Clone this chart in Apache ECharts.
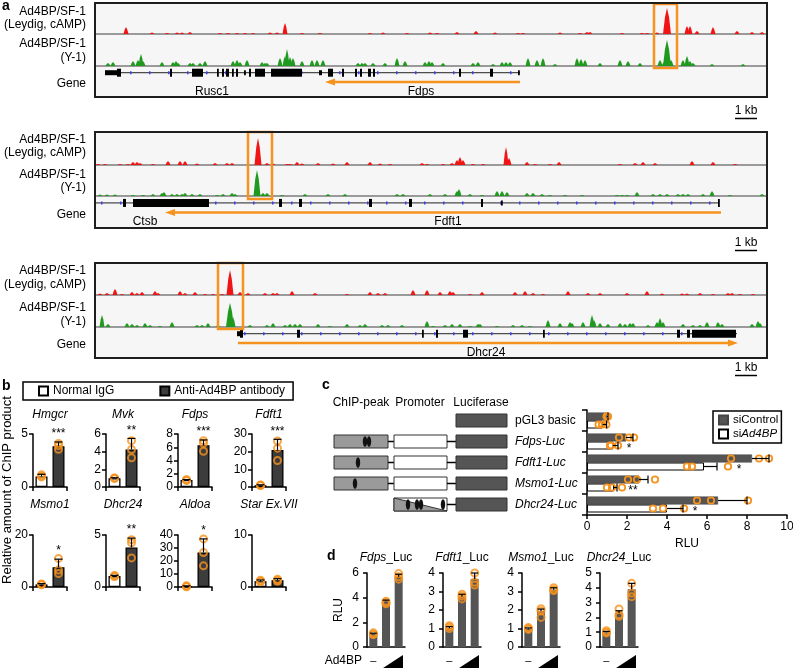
<!DOCTYPE html>
<html>
<head>
<meta charset="utf-8">
<title>Ad4BP/SF-1 targets</title>
<script src="https://cdn.jsdelivr.net/npm/echarts@6/dist/echarts.min.js"></script>
<style>
html, body { margin: 0; padding: 0; background: #fff; }
#fig { width: 793px; height: 668px; }
</style>
</head>
<body>
<div id="fig"></div>
<script>
// ---------------- data ----------------
// panel a: ChIP-seq signal, [position in window units (0-672), height, peak width]
var WINDOW = 672;
var trackLabels = ['Ad4BP/SF-1', '(Leydig, cAMP)', 'Ad4BP/SF-1', '(Y-1)', 'Gene'];

var fdpsLeydig = [[31,7,5],[57,1.5],[72,1],[82,1.5],[87,1.5],[95,2],[125,1],[133,1],[142,1],[150,1],[158,1],[175,1.5],[182,1.5],[190,11,5],[207,1],[225,1],[275,1],[288,1.5],[312,1],[335,1.5],[342,1],[362,2],[381,3],[400,1.5],[423,1],[428,1],[465,1.5],[485,1],[492,2],[495,2],[527,1],[547,1],[552,1],[562,1.5],[572,26,8],[592,8],[595,8],[602,3],[618,7],[642,3],[657,2],[667,2]];
var fdpsY1 = [[13,3],[18,4],[38,5],[43,6],[46,12],[48,5],[67,4],[78,4],[81,5],[83,3],[95,3],[98,3],[105,3],[110,5],[138,5],[142,6],[145,4],[152,6],[167,4],[170,3],[172,3],[185,8],[190,10],[192,17],[195,9],[198,8],[207,5],[217,6],[222,6],[228,6],[263,3],[267,3],[270,3],[278,3],[290,3],[302,8],[310,5],[330,4],[334,5],[337,4],[348,3],[378,3],[383,4],[398,2],[407,4],[411,4],[415,4],[433,8],[442,6],[448,8],[460,2],[482,8],[486,7],[490,6],[505,3],[525,6],[533,5],[545,3],[565,6],[569,4],[572,26,8],[576,6],[588,6],[592,10],[595,5],[598,3],[617,2],[648,2]];
var fdpsIntrons = [[10, 425]];
var fdpsExons = [[10,22,0],[22,26,1],[75,77,1],[97,108,1],[122,123,1],[127,129,1],[131,134,1],[137,138,1],[141,143,1],[149,150,0],[154,156,1],[160,170,1],[176,207,1],[224,227,0],[233,238,1],[247,249,1],[260,262,1],[265,267,1],[273,276,1],[278,280,1],[364,366,1],[395,398,1],[423,424,0]];
var fdpsArrows = [[230, 425, -1]];
var fdpsNames = [[117, 'Rusc1'], [326, 'Fdps']];
var fdpsPeakBox = [[559, 582]];

var fdft1Leydig = [[3,1],[10,1],[25,1],[33,1],[38,3],[42,3],[45,2],[58,1],[73,4],[85,4],[90,4],[102,1.5],[120,2],[132,2],[137,2],[163,27,7],[172,2],[178,1.5],[192,1],[195,1],[202,3],[207,1.5],[223,2],[238,1.5],[252,3],[275,3],[285,1.5],[295,1],[327,2],[332,1],[348,1],[357,2],[362,5],[365,8],[368,5],[378,1],[388,1],[411,18,5],[414,7],[432,3],[440,1],[455,1],[464,3],[525,1],[540,2],[548,3],[560,2],[597,4],[618,3],[640,1]];
var fdft1Y1 = [[5,1.5],[12,1.5],[20,1.5],[38,1],[48,1],[58,2],[67,3],[69,4],[77,2],[82,2],[87,2],[90,3],[97,2],[105,2],[122,1],[128,2],[137,3],[140,2],[162,26,7],[168,3],[172,3],[187,1],[210,2],[233,2],[250,2],[302,2],[308,2],[335,2],[350,2],[362,5],[364,7],[375,2],[387,1],[402,5],[407,5],[412,4],[432,3],[438,3],[447,2],[455,1],[470,1],[487,1],[522,1],[527,1],[532,1],[542,4],[558,2],[565,2],[572,2],[583,2],[588,2],[593,2],[608,2],[617,5],[635,1],[667,2]];
var fdft1Introns = [[0, 624]];
var fdft1Exons = [[28,31,1],[38,114,1],[184,187,1],[204,207,1],[274,277,1],[314,317,1],[386,388,1],[406,407,0],[623,624,1]];
var fdft1Arrows = [[70, 626, -1]];
var fdft1Names = [[50, 'Ctsb'], [353, 'Fdft1']];
var fdft1PeakBox = [[153, 177]];

var dhcr24Leydig = [[5,1.5],[12,2],[20,6],[27,1],[37,3],[42,2],[47,3],[60,4],[63,2],[85,4],[90,2],[100,3],[110,1],[118,1],[127,1],[135,25,7],[145,3],[153,2],[170,2],[178,2],[182,2],[197,4],[220,2],[252,1],[275,3],[283,2],[290,2],[318,5],[332,5],[345,3],[355,4],[358,3],[375,1],[387,3],[420,3],[430,4],[438,2],[448,1],[473,4],[493,2],[505,2],[532,2],[552,4],[567,1.5],[587,1.5],[592,1.5],[605,2],[618,1],[633,2],[637,2],[645,1],[658,1]];
var dhcr24Y1 = [[7,12],[13,3],[32,4],[37,3],[42,2],[50,4],[55,2],[65,1],[77,5],[102,2],[107,2],[113,4],[123,2],[135,24,8],[138,10],[155,2],[172,2],[178,4],[190,2],[195,3],[200,3],[205,3],[223,3],[235,1],[252,3],[265,2],[270,3],[287,2],[293,2],[307,2],[332,6],[338,1],[350,2],[357,3],[365,3],[375,1],[383,3],[385,3],[402,1],[418,2],[427,2],[435,1],[453,7],[465,4],[475,5],[477,4],[488,5],[497,12],[499,7],[505,4],[513,3],[525,4],[530,3],[535,4],[538,4],[553,2],[562,5],[565,9],[568,5],[588,3],[598,2],[605,2],[612,5],[623,5],[627,3],[657,3],[663,6],[665,4]];
var dhcr24Introns = [[143, 642]];
var dhcr24Exons = [[142,145,0],[145,148,1],[202,205,1],[327,328,1],[341,343,1],[368,373,1],[448,449,1],[582,585,1],[592,595,1],[597,641,1]];
var dhcr24Arrows = [[143, 643, 1]];
var dhcr24Names = [[391, 'Dhcr24']];
var dhcr24PeakBox = [[123, 148]];

// panel b: ChIP-qPCR
var chipGenes = ['Hmgcr', 'Mvk', 'Fdps', 'Fdft1', 'Msmo1', 'Dhcr24', 'Aldoa', 'Star Ex.VII'];
var chipYMax = [5, 6, 8, 30, 20, 5, 40, 10];
var chipYStep = [5, 2, 2, 10, 20, 5, 10, 10];
var chipIgG = [1.0, 1.0, 1.05, 1.0, 1.0, 1.05, 0.6, 1.1];
var chipIgGTop = [1.2, 1.05, 1.12, 1.25, 1.3, 1.12, 0.9, 1.35];
var chipIgGPts = [[1.15,1.0,0.95],[1.0,0.97,1.03],[1.0,1.05,1.1],[1.0,1.2,0.8],[1.0,0.85,1.15],[1.05,1.0,1.1],[0.1,0.5,0.9],[1.3,1.1,1.0]];
var chipAnti = [3.85, 4.25, 6.3, 21, 7.6, 3.8, 26.6, 1.3];
var chipAntiTop = [4.25, 5.5, 7.1, 27, 10.7, 4.7, 37, 1.6];
var chipAntiPts = [[4.1,3.55,3.9],[5.25,4.25,3.3],[7.0,6.6,5.4],[26,22,15],[11,6.5,5.2],[4.55,4.25,2.8],[37,26.5,16.3],[1.1,1.3,1.5]];
var chipStars = ['***', '**', '***', '***', '*', '**', '*', ''];

// panel c: reporter constructs, RLU
var lucConstructs = ['pGL3 basic', 'Fdps-Luc', 'Fdft1-Luc', 'Msmo1-Luc', 'Dhcr24-Luc'];
var siControlMean = [1.0, 1.95, 8.25, 2.6, 6.55];
var siControlTop = [1.05, 2.3, 9.1, 3.05, 8.0];
var siControlPts = [[0.98,1.0,1.05],[1.6,2.1,2.35],[7.2,8.6,9.1],[2.05,2.5,3.4],[5.5,6.2,8.05]];
var siAd4bpMean = [0.78, 1.3, 5.85, 1.35, 4.0];
var siAd4bpTop = [0.98, 1.55, 6.5, 1.5, 4.8];
var siAd4bpPts = [[0.58,0.75,0.97],[1.15,1.2,1.55],[5.0,5.25,7.05],[1.0,1.25,1.75],[3.3,3.8,4.85]];
var lucStars = ['', '*', '*', '**', '*'];
// construct maps (schematic units)
var mapChip = [null, [0, 54], [0, 54], [0, 54], null];
var mapPromoter = [null, [60, 113], [60, 113], [60, 113], [60, 113]];
var mapLuc = [[122, 173], [122, 173], [122, 173], [122, 173], [122, 173]];
var mapSites = [[], [31, 35], [24], [21], [74, 83, 87, 109]];
var mapPeakInPromoter = [false, false, false, false, true];

// panel d: dose response, RLU
var doseGenes = ['Fdps', 'Fdft1', 'Msmo1', 'Dhcr24'];
var doseYMax = [6, 4, 4, 5];
var doseYStep = [2, 1, 1, 1];
var doseMean = [[1.1, 3.75, 5.7], [1.03, 2.72, 3.68], [0.98, 1.95, 3.1], [0.99, 2.3, 3.9]];
var doseTop = [[1.12, 3.8, 5.9], [1.1, 2.85, 4.0], [1.03, 2.05, 3.2], [1.05, 2.45, 4.3]];
var dosePts = [
  [[1.0, 1.05, 1.15], [3.5, 3.6, 3.7], [5.5, 5.7, 5.95]],
  [[1.0, 1.1, 1.15], [2.6, 2.75, 2.85], [3.35, 3.5, 4.0]],
  [[0.95, 1.0, 1.05], [1.6, 1.95, 2.07], [3.05, 3.1, 3.2]],
  [[0.95, 1.0, 1.1], [2.07, 2.18, 2.57], [3.4, 3.65, 4.3]]
];

// ---------------- layout / helpers ----------------
var FONT = '"Liberation Sans", Arial, Helvetica, sans-serif';
var ORANGE = '#F6921E';
var grids = [], xAxes = [], yAxes = [], series = [], graphic = [];

function addGrid(rect, xAxis, yAxis) {
  var i = grids.length;
  grids.push({ left: rect[0], top: rect[1], width: rect[2], height: rect[3], outerBoundsMode: 'none' });
  xAxis.gridIndex = i;
  yAxis.gridIndex = i;
  xAxes.push(xAxis);
  yAxes.push(yAxis);
  return i;
}
function hiddenAxis(min, max, inverse) {
  return { type: 'value', min: min, max: max, show: false, inverse: !!inverse };
}
function txt(s, x, y, o) {
  o = o || {};
  return {
    type: 'text', x: x, y: y, z: 60, silent: true, rotation: o.rot || 0,
    style: {
      text: s, fill: '#000', fontFamily: FONT, fontSize: o.size || 11.5,
      fontStyle: o.italic ? 'italic' : 'normal', fontWeight: o.bold ? 'bold' : 'normal',
      align: o.align || 'center', verticalAlign: o.valign || 'middle', rich: o.rich
    }
  };
}
var blackLine = { show: true, onZero: false, lineStyle: { color: '#000', width: 1.5 } };
var blackTick = { show: true, length: 4, lineStyle: { color: '#000', width: 1.5 } };

// ---------------- panel a ----------------
var loci = [
  { leydig: fdpsLeydig, y1: fdpsY1, introns: fdpsIntrons, exons: fdpsExons, arrows: fdpsArrows, names: fdpsNames, box: fdpsPeakBox },
  { leydig: fdft1Leydig, y1: fdft1Y1, introns: fdft1Introns, exons: fdft1Exons, arrows: fdft1Arrows, names: fdft1Names, box: fdft1PeakBox },
  { leydig: dhcr24Leydig, y1: dhcr24Y1, introns: dhcr24Introns, exons: dhcr24Exons, arrows: dhcr24Arrows, names: dhcr24Names, box: dhcr24PeakBox }
];
var boxes = [
  { top: 3, bottom: 97, red: 34, green: 66, hl: [4, 68], text: [12, 24.5, 44, 58, 84], kb: 111 },
  { top: 132, bottom: 228, red: 165, green: 196, hl: [132, 199], text: [139.5, 152.5, 175, 188, 215], kb: 243 },
  { top: 263, bottom: 358, red: 295, green: 327, hl: [263, 329], text: [271, 284.5, 308, 322, 345], kb: 368 }
];
var FRAME_L = 95, FRAME_W = 672;
var LINE_ROW = 6.5, ARROW_ROW = 15.5, NAME_ROW = 24.5;

function trackX() {
  return {
    type: 'value', min: 0, max: WINDOW,
    axisLine: { show: true, onZero: false, lineStyle: { color: '#9a9a9a', width: 2 } },
    axisTick: { show: false }, axisLabel: { show: false }, splitLine: { show: false }
  };
}
function peakSeries(gi, peaks, color) {
  return {
    type: 'custom', xAxisIndex: gi, yAxisIndex: gi, silent: true, z: 3,
    data: peaks.map(function (p) { return [p[0], p[1]]; }),
    renderItem: function (params, api) {
      var p = peaks[params.dataIndex];
      var half = (p[2] || 5) / 2;
      var pts = [
        api.coord([p[0] - half, 0]),
        api.coord([p[0] - half * 0.5, p[1] * 0.65]),
        api.coord([p[0], p[1]]),
        api.coord([p[0] + half * 0.5, p[1] * 0.65]),
        api.coord([p[0] + half, 0])
      ];
      return { type: 'polygon', shape: { points: pts }, style: { fill: color } };
    }
  };
}
function intronSeries(gi, spans) {
  return {
    type: 'custom', xAxisIndex: gi, yAxisIndex: gi, silent: true, z: 3,
    data: spans.map(function (s) { return [s[0], LINE_ROW]; }),
    renderItem: function (params, api) {
      var s = spans[params.dataIndex];
      var a = api.coord([s[0], LINE_ROW]), b = api.coord([s[1], LINE_ROW]);
      return {
        type: 'group', children: [
          { type: 'line', shape: { x1: a[0], y1: a[1], x2: b[0], y2: b[1] }, style: { stroke: '#222', lineWidth: 1 } },
          { type: 'line', shape: { x1: a[0] + 6, y1: a[1], x2: b[0], y2: b[1] }, style: { stroke: '#3b3bf0', lineWidth: 3, lineDash: [1.5, 17.5] } }
        ]
      };
    }
  };
}
function exonSeries(gi, exons) {
  return {
    type: 'custom', xAxisIndex: gi, yAxisIndex: gi, silent: true, z: 4,
    data: exons.map(function (e) { return [e[0], LINE_ROW]; }),
    renderItem: function (params, api) {
      var e = exons[params.dataIndex];
      var a = api.coord([e[0], LINE_ROW]), b = api.coord([e[1], LINE_ROW]);
      var h = e[2] ? 8 : 5;
      return { type: 'rect', shape: { x: a[0], y: a[1] - h / 2, width: Math.max(1.8, b[0] - a[0]), height: h }, style: { fill: '#000' } };
    }
  };
}
function arrowSeries(gi, arrows) {
  return {
    type: 'custom', xAxisIndex: gi, yAxisIndex: gi, silent: true, z: 4,
    data: arrows.map(function (a) { return [a[0], ARROW_ROW]; }),
    renderItem: function (params, api) {
      var a = arrows[params.dataIndex];
      var p0 = api.coord([a[0], ARROW_ROW]), p1 = api.coord([a[1], ARROW_ROW]);
      var tip = a[2] < 0 ? p0 : p1, tail = a[2] < 0 ? p1 : p0, d = a[2] < 0 ? 1 : -1;
      return {
        type: 'group', children: [
          { type: 'line', shape: { x1: tip[0] + d * 6, y1: tip[1], x2: tail[0], y2: tail[1] }, style: { stroke: ORANGE, lineWidth: 2.5 } },
          { type: 'polygon', shape: { points: [[tip[0], tip[1]], [tip[0] + d * 10, tip[1] - 3.5], [tip[0] + d * 10, tip[1] + 3.5]] }, style: { fill: ORANGE } }
        ]
      };
    }
  };
}
function nameSeries(gi, names) {
  return {
    type: 'custom', xAxisIndex: gi, yAxisIndex: gi, silent: true, z: 4,
    data: names.map(function (n) { return [n[0], NAME_ROW]; }),
    renderItem: function (params, api) {
      var n = names[params.dataIndex];
      var p = api.coord([n[0], NAME_ROW]);
      return { type: 'text', x: p[0], y: p[1], style: { text: n[1], fill: '#000', fontFamily: FONT, fontSize: 12, align: 'center', verticalAlign: 'middle' } };
    }
  };
}

boxes.forEach(function (b, k) {
  var L = loci[k];
  graphic.push({ type: 'rect', z: -1, silent: true, shape: { x: FRAME_L, y: b.top, width: FRAME_W, height: b.bottom - b.top }, style: { fill: '#f6f6f6' } });
  graphic.push({ type: 'rect', z: 50, silent: true, shape: { x: FRAME_L, y: b.top, width: FRAME_W, height: b.bottom - b.top }, style: { fill: 'none', stroke: '#1e1e1e', lineWidth: 2 } });

  var hRed = b.red - b.top - 2;
  var gRed = addGrid([FRAME_L, b.top + 2, FRAME_W, hRed], trackX(), hiddenAxis(0, hRed));
  series.push(peakSeries(gRed, L.leydig, '#f01414'));

  var hGreen = b.green - b.red - 2;
  var gGreen = addGrid([FRAME_L, b.red + 2, FRAME_W, hGreen], trackX(), hiddenAxis(0, hGreen));
  series.push(peakSeries(gGreen, L.y1, '#1f9a1f'));

  var gGene = addGrid([FRAME_L, b.green, FRAME_W, b.bottom - b.green], hiddenAxis(0, WINDOW), hiddenAxis(0, 30, true));
  series.push(intronSeries(gGene, L.introns));
  series.push(exonSeries(gGene, L.exons));
  series.push(arrowSeries(gGene, L.arrows));
  series.push(nameSeries(gGene, L.names));

  var gHl = addGrid([FRAME_L, b.hl[0], FRAME_W, b.hl[1] - b.hl[0]], hiddenAxis(0, WINDOW), hiddenAxis(0, 1));
  series.push({
    type: 'custom', xAxisIndex: gHl, yAxisIndex: gHl, silent: true, z: 6,
    data: L.box.map(function (r) { return [r[0], 1]; }),
    renderItem: function (params, api) {
      var r = L.box[params.dataIndex];
      var a = api.coord([r[0], 1]), c = api.coord([r[1], 0]);
      return { type: 'rect', shape: { x: a[0], y: a[1], width: c[0] - a[0], height: c[1] - a[1] }, style: { fill: 'none', stroke: ORANGE, lineWidth: 2.5 } };
    }
  });

  b.text.forEach(function (y, j) { graphic.push(txt(trackLabels[j], 86, y, { align: 'right', size: 12 })); });
  graphic.push(txt('1 kb', 746, b.kb, { size: 12 }));
  graphic.push({ type: 'line', silent: true, z: 60, shape: { x1: 735, y1: b.kb + 7.5, x2: 757, y2: b.kb + 7.5 }, style: { stroke: '#000', lineWidth: 1.5 } });
});
graphic.push(txt('a', 2, 6, { bold: true, size: 14, align: 'left' }));

// ---------------- panel b ----------------
var chipLeft = [33, 106, 178, 252], chipTop = [434, 535], chipH = [53, 52], chipTitleY = [415, 505], CHIP_W = 34;
chipGenes.forEach(function (g, i) {
  var row = Math.floor(i / 4), left = chipLeft[i % 4];
  var gi = addGrid([left, chipTop[row], CHIP_W, chipH[row]],
    { type: 'category', data: ['IgG', 'Ad4BP'], axisLine: blackLine, axisTick: blackTick, axisLabel: { show: false }, splitLine: { show: false } },
    { type: 'value', min: 0, max: chipYMax[i], interval: chipYStep[i], axisLine: blackLine, axisTick: blackTick,
      axisLabel: { fontSize: 12, color: '#000', margin: 5, fontFamily: FONT }, splitLine: { show: false } });
  series.push({ type: 'bar', name: 'Normal IgG', xAxisIndex: gi, yAxisIndex: gi, data: [chipIgG[i], '-'], barWidth: 12, barGap: '-100%', silent: true,
    itemStyle: { color: '#fff', borderColor: '#000', borderWidth: 1.3 } });
  series.push({ type: 'bar', name: 'Anti-Ad4BP antibody', xAxisIndex: gi, yAxisIndex: gi, data: ['-', chipAnti[i]], barWidth: 12, barGap: '-100%', silent: true,
    itemStyle: { color: '#3c3c3c', borderColor: '#000', borderWidth: 1.3 } });
  var pts = chipIgGPts[i].map(function (v) { return [0, v]; }).concat(chipAntiPts[i].map(function (v) { return [1, v]; }));
  series.push({ type: 'scatter', xAxisIndex: gi, yAxisIndex: gi, data: pts, symbol: 'circle', symbolSize: 7, silent: true, z: 4,
    itemStyle: { color: 'rgba(255,255,255,0)', borderColor: ORANGE, borderWidth: 2 } });
  var errs = [[0, chipIgG[i], chipIgGTop[i]], [1, chipAnti[i], chipAntiTop[i]]];
  series.push({
    type: 'custom', xAxisIndex: gi, yAxisIndex: gi, silent: true, z: 5, data: errs, encode: { x: 0, y: [1, 2] },
    renderItem: function (params, api) {
      var e = errs[params.dataIndex];
      var a = api.coord([e[0], e[1]]), c = api.coord([e[0], e[2]]);
      return { type: 'group', children: [
        { type: 'line', shape: { x1: a[0], y1: a[1], x2: c[0], y2: c[1] }, style: { stroke: '#000', lineWidth: 1.2 } },
        { type: 'line', shape: { x1: c[0] - 4, y1: c[1], x2: c[0] + 4, y2: c[1] }, style: { stroke: '#000', lineWidth: 1.2 } }
      ] };
    }
  });
  if (chipStars[i]) {
    var starAt = Math.max(chipAntiTop[i], Math.max.apply(null, chipAntiPts[i]));
    series.push({
      type: 'custom', xAxisIndex: gi, yAxisIndex: gi, silent: true, z: 5, data: [[1, starAt]],
      renderItem: function (params, api) {
        var p = api.coord([1, starAt]);
        return { type: 'text', x: p[0], y: p[1] - 2, style: { text: chipStars[i], fill: '#000', fontFamily: FONT, fontSize: 12, align: 'center', verticalAlign: 'bottom' } };
      }
    });
  }
  graphic.push(txt(g, left + 17, chipTitleY[row], { italic: true, size: 12 }));
});
graphic.push(txt('b', 2, 386, { bold: true, size: 14, align: 'left' }));
graphic.push(txt('Relative amount of ChIP product', 7, 490, { rot: Math.PI / 2, size: 13 }));

// ---------------- panel c ----------------
var gc = addGrid([587, 410, 200, 105],
  { type: 'value', min: 0, max: 10, interval: 2, name: 'RLU', nameLocation: 'middle', nameGap: 23,
    nameTextStyle: { fontSize: 12, color: '#000', fontFamily: FONT },
    axisLine: blackLine, axisTick: blackTick, axisLabel: { fontSize: 12, color: '#000', margin: 6, fontFamily: FONT }, splitLine: { show: false } },
  { type: 'category', data: lucConstructs, inverse: true, axisLine: blackLine, axisTick: { show: true, length: 5, lineStyle: { color: '#000', width: 1.5 } },
    axisLabel: { show: true, align: 'left', margin: 72, color: '#000',
      formatter: function (v) { return v === 'pGL3 basic' ? '{n|' + v + '}' : '{i|' + v + '}'; },
      rich: { n: { fontSize: 12, fontFamily: FONT, color: '#000' }, i: { fontSize: 12, fontFamily: FONT, fontStyle: 'italic', color: '#000' } } },
    splitLine: { show: false } });
series.push({ type: 'bar', name: 'siControl', xAxisIndex: gc, yAxisIndex: gc, data: siControlMean, barWidth: 8, barGap: '0%', silent: true,
  itemStyle: { color: '#555', borderColor: '#444', borderWidth: 0.5 } });
series.push({ type: 'bar', name: 'siAd4BP', xAxisIndex: gc, yAxisIndex: gc, data: siAd4bpMean, barWidth: 8, barGap: '0%', silent: true,
  itemStyle: { color: '#fff', borderColor: '#000', borderWidth: 1 } });

function hGroupSeries(mean, top, pts, shift, stars) {
  series.push({
    type: 'custom', xAxisIndex: gc, yAxisIndex: gc, silent: true, z: 5,
    data: mean.map(function (m, i) { return [m, i]; }),
    renderItem: function (params, api) {
      var i = params.dataIndex;
      var a = api.coord([mean[i], i]), c = api.coord([top[i], i]);
      var y = a[1] + shift;
      var kids = [];
      pts[i].forEach(function (v) {
        var p = api.coord([v, i]);
        kids.push({ type: 'circle', shape: { cx: p[0], cy: y, r: 3.2 }, style: { fill: 'none', stroke: ORANGE, lineWidth: 1.8 } });
      });
      kids.push({ type: 'line', shape: { x1: a[0], y1: y, x2: c[0], y2: y }, style: { stroke: '#000', lineWidth: 1.2 } });
      kids.push({ type: 'line', shape: { x1: c[0], y1: y - 4, x2: c[0], y2: y + 4 }, style: { stroke: '#000', lineWidth: 1.2 } });
      if (stars && stars[i]) {
        var far = api.coord([Math.max(top[i], Math.max.apply(null, pts[i])), i]);
        kids.push({ type: 'text', x: far[0] + 11, y: y + 3, style: { text: stars[i], fill: '#000', fontFamily: FONT, fontSize: 12, align: 'center', verticalAlign: 'middle' } });
      }
      return { type: 'group', children: kids };
    }
  });
}
hGroupSeries(siControlMean, siControlTop, siControlPts, -4, null);
hGroupSeries(siAd4bpMean, siAd4bpTop, siAd4bpPts, 4, lucStars);

// construct schematic
var gs = addGrid([334, 410, 173, 105], hiddenAxis(0, 173), { type: 'category', data: lucConstructs, inverse: true, show: false });
series.push({
  type: 'custom', xAxisIndex: gs, yAxisIndex: gs, silent: true, z: 3,
  data: lucConstructs.map(function (c, i) { return [0, i]; }),
  renderItem: function (params, api) {
    var i = params.dataIndex;
    var yc = api.coord([0, i])[1], H = 13, y0 = yc - H / 2, y1 = yc + H / 2;
    var kids = [];
    function x(v) { return api.coord([v, i])[0]; }
    function box(r, fill) {
      kids.push({ type: 'rect', shape: { x: x(r[0]), y: y0, width: x(r[1]) - x(r[0]), height: H }, style: { fill: fill, stroke: '#333', lineWidth: 1 } });
    }
    function link(a, b) {
      kids.push({ type: 'line', shape: { x1: x(a), y1: yc, x2: x(b), y2: yc }, style: { stroke: '#000', lineWidth: 1.5 } });
    }
    if (mapChip[i]) { box(mapChip[i], '#9a9a9a'); link(mapChip[i][1], mapPromoter[i][0]); }
    if (mapPromoter[i]) {
      box(mapPromoter[i], '#fff');
      if (mapPeakInPromoter[i]) {
        var p = mapPromoter[i];
        kids.push({ type: 'polygon', shape: { points: [[x(p[0]), y0], [x(p[0]), y1], [x(p[1]), y1]] }, style: { fill: '#9a9a9a', stroke: '#333', lineWidth: 1 } });
      }
      link(mapPromoter[i][1], mapLuc[i][0]);
    }
    box(mapLuc[i], '#555');
    mapSites[i].forEach(function (s) {
      kids.push({ type: 'ellipse', shape: { cx: x(s), cy: yc, rx: 2.2, ry: 5.3 }, style: { fill: '#111' } });
    });
    return { type: 'group', children: kids };
  }
});
graphic.push(txt('c', 322, 385, { bold: true, size: 14, align: 'left' }));
graphic.push(txt('ChIP-peak', 361, 403, { size: 12 }));
graphic.push(txt('Promoter', 420, 403, { size: 12 }));
graphic.push(txt('Luciferase', 481, 403, { size: 12 }));

// ---------------- panel d ----------------
var doseLeft = [367, 443, 522, 600], DOSE_TOP = 573, DOSE_H = 74, DOSE_W = 38;
doseGenes.forEach(function (g, i) {
  var left = doseLeft[i];
  var yAx = { type: 'value', min: 0, max: doseYMax[i], interval: doseYStep[i], axisLine: blackLine, axisTick: blackTick,
    axisLabel: { fontSize: 12, color: '#000', margin: 8, fontFamily: FONT }, splitLine: { show: false } };
  if (i === 0) {
    yAx.name = 'RLU'; yAx.nameLocation = 'middle'; yAx.nameGap = 22;
    yAx.nameTextStyle = { fontSize: 12, color: '#000', fontFamily: FONT };
  }
  var gi = addGrid([left, DOSE_TOP, DOSE_W, DOSE_H],
    { type: 'category', data: ['none', 'low', 'high'], axisLine: blackLine, axisTick: { show: false },
      axisLabel: { interval: 0, margin: 8, fontSize: 11, color: '#000', formatter: function (v, idx) { return idx === 0 ? '\u2013' : ''; } },
      splitLine: { show: false } }, yAx);
  series.push({ type: 'bar', xAxisIndex: gi, yAxisIndex: gi, data: doseMean[i], barWidth: 8, silent: true, itemStyle: { color: '#555' } });
  var pts = [];
  dosePts[i].forEach(function (arr, c) { arr.forEach(function (v) { pts.push([c, v]); }); });
  series.push({ type: 'scatter', xAxisIndex: gi, yAxisIndex: gi, data: pts, symbol: 'circle', symbolSize: 7, silent: true, z: 4,
    itemStyle: { color: 'rgba(255,255,255,0)', borderColor: ORANGE, borderWidth: 2 } });
  var errs = doseMean[i].map(function (m, c) { return [c, m, doseTop[i][c]]; });
  series.push({
    type: 'custom', xAxisIndex: gi, yAxisIndex: gi, silent: true, z: 5, data: errs, encode: { x: 0, y: [1, 2] },
    renderItem: function (params, api) {
      var e = errs[params.dataIndex];
      var a = api.coord([e[0], e[1]]), c = api.coord([e[0], e[2]]);
      return { type: 'group', children: [
        { type: 'line', shape: { x1: a[0], y1: a[1], x2: c[0], y2: c[1] }, style: { stroke: '#000', lineWidth: 1.2 } },
        { type: 'line', shape: { x1: c[0] - 3.5, y1: c[1], x2: c[0] + 3.5, y2: c[1] }, style: { stroke: '#000', lineWidth: 1.2 } }
      ] };
    }
  });
  graphic.push(txt('{i|' + g + '}_Luc', left + 19, 558, { size: 12, rich: { i: { fontStyle: 'italic', fontSize: 12, fontFamily: FONT, fill: '#000' } } }));
  graphic.push({ type: 'polygon', silent: true, z: 60, shape: { points: [[left + 13, 670], [left + 36, 655], [left + 36, 670]] }, style: { fill: '#000' } });
});
graphic.push(txt('d', 327, 556, { bold: true, size: 14, align: 'left' }));
graphic.push(txt('Ad4BP', 362, 661, { align: 'right', size: 12 }));

// ---------------- chart ----------------
var chart = echarts.init(document.getElementById('fig'));
chart.setOption({
  animation: false,
  backgroundColor: '#fff',
  textStyle: { fontFamily: FONT, color: '#000' },
  grid: grids,
  xAxis: xAxes,
  yAxis: yAxes,
  legend: [
    { data: ['Normal IgG', 'Anti-Ad4BP antibody'], left: 23, top: 382, orient: 'horizontal', icon: 'rect',
      itemWidth: 9, itemHeight: 9, itemGap: 45, padding: [3, 8, 3, 15], borderColor: '#000', borderWidth: 1.5,
      selectedMode: false, textStyle: { fontSize: 12, color: '#000', fontFamily: FONT } },
    { data: ['siControl', 'siAd4BP'], left: 713, top: 411, orient: 'vertical', icon: 'rect',
      itemWidth: 9, itemHeight: 9, itemGap: 2, padding: [3, 3, 3, 5], borderColor: '#000', borderWidth: 1.5,
      selectedMode: false,
      formatter: function (n) { return n === 'siAd4BP' ? '{a|si}{b|Ad4BP}' : '{a|' + n + '}'; },
      textStyle: { fontSize: 11.5, color: '#000', fontFamily: FONT,
        rich: { a: { fontSize: 11.5, fontFamily: FONT, color: '#000' }, b: { fontSize: 11.5, fontFamily: FONT, fontStyle: 'italic', color: '#000' } } } }
  ],
  series: series,
  graphic: graphic
});
</script>
</body>
</html>
